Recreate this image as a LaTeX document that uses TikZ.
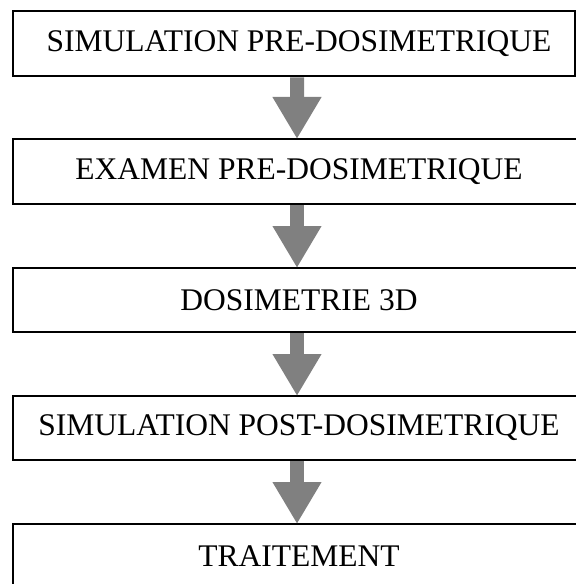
\documentclass[tikz,border=0pt]{standalone}
\usepackage{fontspec}
\setmainfont{Liberation Serif}
\usetikzlibrary{arrows.meta}
\begin{document}
\begin{tikzpicture}[x=1bp,y=-1bp,
  box/.style={draw=black, line width=2.6bp, rectangle, outer sep=0pt, inner sep=0pt},
  lbl/.style={inner sep=0pt, font=\fontsize{31.5bp}{33bp}\selectfont},
  bigarrow/.style={draw=gray, line width=14bp, -{Triangle[length=42bp,width=46bp]}}]
\useasboundingbox (0,0) rectangle (576,584);
\clip (0,0) rectangle (576,584);
\node[box, minimum width=562bp, minimum height=65bp] (b1) at (294,43.5) {};
\node[box, minimum width=565bp, minimum height=65bp] (b2) at (295.5,171.5) {};
\node[box, minimum width=565bp, minimum height=64bp] (b3) at (295.5,300) {};
\node[box, minimum width=565bp, minimum height=64bp] (b4) at (295.5,428) {};
\node[box, minimum width=565bp, minimum height=65bp] (b5) at (295.5,556.5) {};
\node[lbl] (t1) at (299,43.5) {SIMULATION PRE-DOSIMETRIQUE};
\node[lbl] (t2) at (299,171.5) {EXAMEN PRE-DOSIMETRIQUE};
\node[lbl] (t3) at (299,300) {DOSIMETRIE 3D};
\node[lbl] (t4) at (299,428) {SIMULATION POST-DOSIMETRIQUE};
\node[lbl] (t5) at (299,556.5) {TRAITEMENT};
\draw[bigarrow] ([xshift=3bp,yshift=-1.3bp]b1.south) -- ([xshift=1.5bp]b2.north);
\draw[bigarrow] ([xshift=1.5bp,yshift=-1.3bp]b2.south) -- ([xshift=1.5bp]b3.north);
\draw[bigarrow] ([xshift=1.5bp,yshift=-1.3bp]b3.south) -- ([xshift=1.5bp]b4.north);
\draw[bigarrow] ([xshift=1.5bp,yshift=-1.3bp]b4.south) -- ([xshift=1.5bp]b5.north);
\end{tikzpicture}
\end{document}
